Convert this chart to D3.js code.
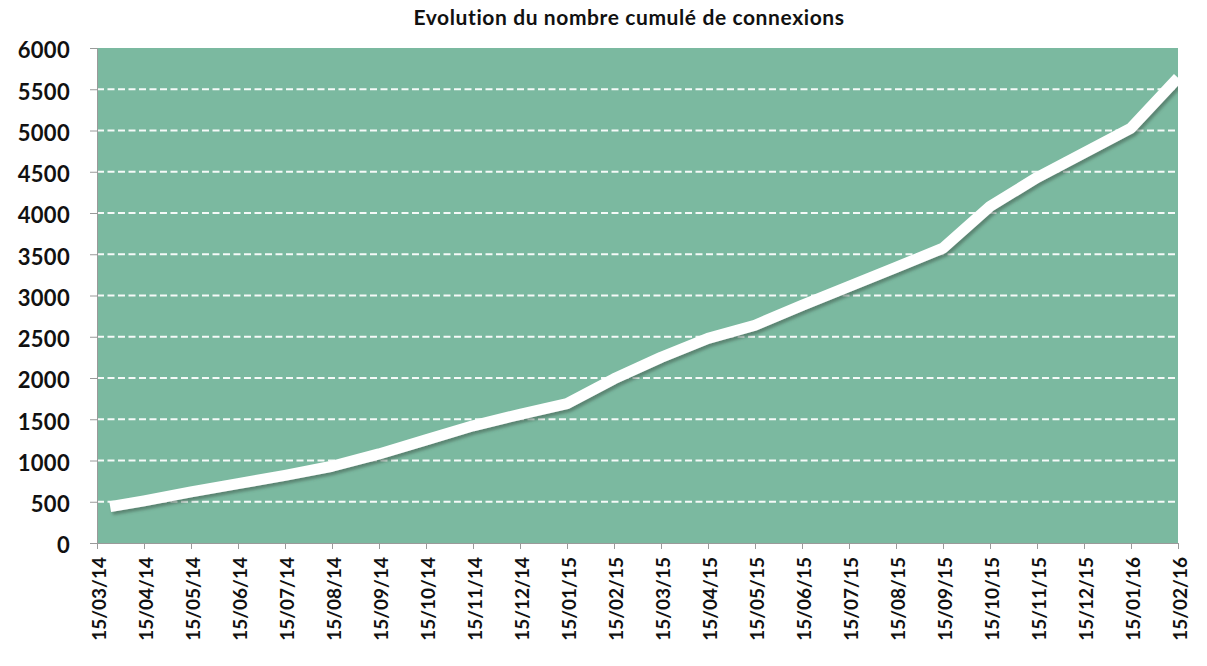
<!DOCTYPE html>
<html>
<head>
<meta charset="utf-8">
<script src="https://cdn.jsdelivr.net/npm/d3@7"></script>
<style>
  body { margin: 0; background: #fff; }
  svg { display: block; font-family: Lato, "Open Sans", sans-serif; font-variant-ligatures: none; }
</style>
</head>
<body>
<div id="chart"></div>
<script>
// Data
const monthLabels = [
  "15/03/14", "15/04/14", "15/05/14", "15/06/14", "15/07/14", "15/08/14",
  "15/09/14", "15/10/14", "15/11/14", "15/12/14", "15/01/15", "15/02/15",
  "15/03/15", "15/04/15", "15/05/15", "15/06/15", "15/07/15", "15/08/15",
  "15/09/15", "15/10/15", "15/11/15", "15/12/15", "15/01/16", "15/02/16"
];
// position of each point in months from 15/03/14 (first point is a few days later)
const pointMonths = [0.28, 1, 2, 3, 4, 5, 6, 7, 8, 9, 10, 11,
  12, 13, 14, 15, 16, 17, 18, 19, 20, 21, 22, 23];
const pointValues = [440, 510, 620, 720, 820, 930, 1080, 1250, 1420, 1560, 1690, 1990,
  2250, 2480, 2640, 2880, 3110, 3340, 3575, 4080, 4430, 4730, 5030, 5640];
const yTickValues = [0, 500, 1000, 1500, 2000, 2500, 3000, 3500, 4000, 4500, 5000, 5500, 6000];
const gridValues = [500, 1000, 1500, 2000, 2500, 3000, 3500, 4000, 4500, 5000, 5500];

const W = 1207, H = 666;
const margin = { top: 48, right: 29, bottom: 123, left: 97 };
const innerW = W - margin.left - margin.right;
const innerH = H - margin.top - margin.bottom;

const svg = d3.select("#chart").append("svg").attr("width", W).attr("height", H);

const defs = svg.append("defs");
const shadow = defs.append("filter").attr("id", "shadow")
  .attr("x", "-5%").attr("y", "-5%").attr("width", "110%").attr("height", "120%");
shadow.append("feDropShadow")
  .attr("dx", 2).attr("dy", 3).attr("stdDeviation", 1.8)
  .attr("flood-color", "#3d5a4e").attr("flood-opacity", 0.55);
defs.append("clipPath").attr("id", "plotClip")
  .append("rect").attr("width", innerW).attr("height", innerH);

const x = d3.scaleLinear().domain([0, monthLabels.length - 1]).range([0, innerW]);
const y = d3.scaleLinear().domain([0, 6000]).range([innerH, 0]);

// Title
svg.append("text")
  .attr("x", 629).attr("y", 25)
  .attr("text-anchor", "middle")
  .style("font-size", "21px").style("font-weight", 700).style("fill", "#111")
  .style("letter-spacing", "0.6px")
  .text("Evolution du nombre cumulé de connexions");

const g = svg.append("g").attr("transform", `translate(${margin.left},${margin.top})`);

// Plot background
g.append("rect")
  .attr("width", innerW).attr("height", innerH)
  .attr("fill", "#7bb9a0");

// Dashed grid lines
g.selectAll(".grid")
  .data(gridValues)
  .enter()
  .append("line")
  .attr("class", "grid")
  .attr("x1", 0).attr("x2", innerW)
  .attr("y1", (d) => y(d)).attr("y2", (d) => y(d))
  .attr("stroke", "#fff").attr("stroke-opacity", 0.92)
  .attr("stroke-width", 2).attr("stroke-dasharray", "7,3.5");

// Y axis
g.append("g")
  .call(d3.axisLeft(y).tickValues(yTickValues).tickSize(7).tickPadding(20).tickFormat(d3.format("d")))
  .call((a) => a.select(".domain").attr("stroke", "#9a9a9a"))
  .call((a) => a.selectAll(".tick line").attr("stroke", "#9a9a9a"))
  .call((a) => a.selectAll("text")
    .attr("dy", "0.45em")
    .style("font-size", "22px").style("font-weight", 700).style("fill", "#111")
    .style("letter-spacing", "0.3px")
    .style("font-family", "Lato, sans-serif"));

// X axis
g.append("g")
  .attr("transform", `translate(0,${innerH})`)
  .call(d3.axisBottom(x).tickValues(d3.range(monthLabels.length)).tickSize(6)
    .tickFormat((i) => monthLabels[i]))
  .call((a) => a.select(".domain").attr("stroke", "#9a9a9a"))
  .call((a) => a.selectAll(".tick line").attr("stroke", "#9a9a9a"))
  .call((a) => a.selectAll("text")
    .attr("transform", "rotate(-90)")
    .attr("text-anchor", "end")
    .attr("x", -14).attr("y", 2).attr("dy", "0.36em")
    .style("font-size", "19px").style("font-weight", 700).style("fill", "#111")
    .style("font-family", "Lato, sans-serif"));

// Cumulative line
const points = pointMonths.map((m, i) => [m, pointValues[i]]);
const line = d3.line().x((d) => x(d[0])).y((d) => y(d[1]));

g.append("g").attr("clip-path", "url(#plotClip)")
  .append("path")
  .datum(points)
  .attr("d", line)
  .attr("fill", "none")
  .attr("stroke", "#fff")
  .attr("stroke-width", 11)
  .attr("stroke-linejoin", "round")
  .attr("stroke-linecap", "butt")
  .attr("filter", "url(#shadow)");
</script>
</body>
</html>
